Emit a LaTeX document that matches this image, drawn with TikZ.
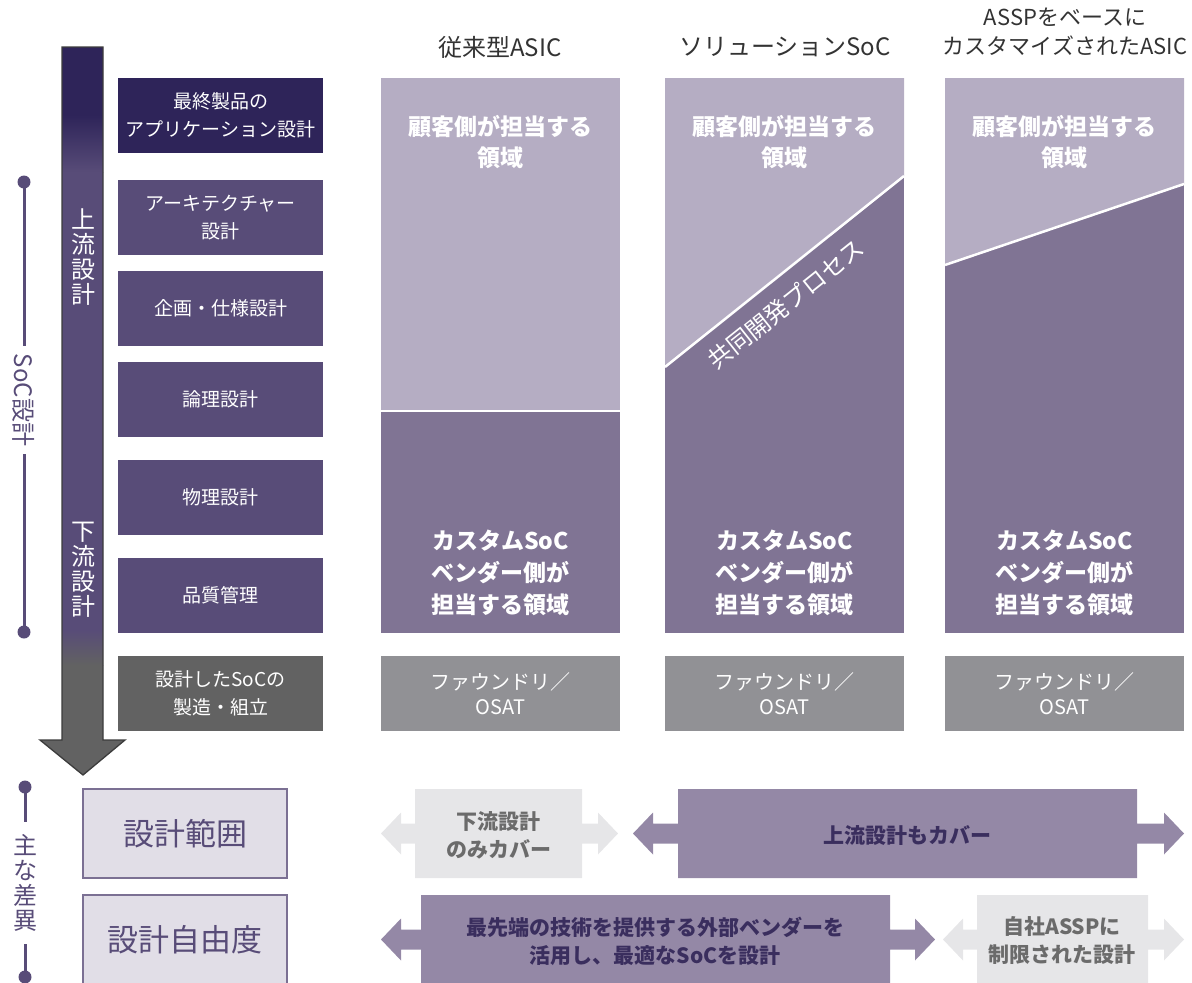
\documentclass[tikz,border=0pt]{standalone}
\usepackage{fontspec}
\setmainfont{Noto Sans CJK JP}
\usetikzlibrary{calc}
\definecolor{navy}{HTML}{2E2459}
\definecolor{boxp}{HTML}{584C78}
\definecolor{boxg}{HTML}{626262}
\definecolor{collight}{HTML}{B5ADC3}
\definecolor{coldark}{HTML}{807494}
\definecolor{foundry}{HTML}{919195}
\definecolor{diffill}{HTML}{E1DEE7}
\definecolor{difdraw}{HTML}{7B7093}
\definecolor{arrlight}{HTML}{E6E6E8}
\definecolor{arrdark}{HTML}{9488A6}
\definecolor{txtdark}{HTML}{3A2E5E}
\definecolor{txtgrey}{HTML}{6B6B6B}
\definecolor{hdr}{HTML}{333333}
\definecolor{outl}{HTML}{3C3C3C}
\newcommand\fsz[2]{\fontsize{#1}{#2}\selectfont}
\newcommand\dblarrow[7]{%
\fill[#1] ({#3},{#6}) -- ({#4},{#6}) -- ({#4},{(#6+#7)/2-10}) -- ({#5-20},{(#6+#7)/2-10}) -- ({#5-20},{(#6+#7)/2-21}) -- ({#5},{(#6+#7)/2}) -- ({#5-20},{(#6+#7)/2+21}) -- ({#5-20},{(#6+#7)/2+10}) -- ({#4},{(#6+#7)/2+10}) -- ({#4},{#7}) -- ({#3},{#7}) -- ({#3},{(#6+#7)/2+10}) -- ({#2+20},{(#6+#7)/2+10}) -- ({#2+20},{(#6+#7)/2+21}) -- ({#2},{(#6+#7)/2}) -- ({#2+20},{(#6+#7)/2-21}) -- ({#2+20},{(#6+#7)/2-10}) -- ({#3},{(#6+#7)/2-10}) -- cycle;}
\tikzset{
 lbox/.style={minimum width=205pt, minimum height=75pt, inner sep=0pt, text=white, align=center, font=\fsz{19}{28}},
 fbox/.style={minimum width=239pt, minimum height=75pt, inner sep=0pt, fill=foundry, text=white, align=center, font=\fsz{20}{25}},
 coltxt/.style={text=white, align=center, inner sep=0pt, font=\bfseries\fsz{23}{31}},
 hdrtxt/.style={text=hdr, align=center, inner sep=0pt, font=\fsz{24}{29}},
 difbox/.style={minimum width=204pt, fill=diffill, draw=difdraw, line width=1.2pt, text=boxp, inner sep=0pt, font=\fsz{31}{36}},
 darrtxt/.style={text=txtdark, align=center, inner sep=0pt, font=\bfseries\fsz{21}{28}},
 larrtxt/.style={text=txtgrey, align=center, inner sep=0pt, font=\bfseries\fsz{21}{28}},
 brk/.style={draw=boxp, line width=3pt},
 brkdot/.style={fill=boxp},
 vtxt/.style={align=center, inner sep=0pt, font=\fsz{24}{25}},
}
\begin{document}
\begin{tikzpicture}[x=1pt,y=-1pt]
\useasboundingbox (0,0) rectangle (1192,983);
\clip (0,0) rectangle (1192,983);
% big arrow
\begin{scope}
\clip (62,47) -- (103,47) -- (103,740) -- (125,740) -- (83,775) -- (40,740) -- (62,740) -- cycle;
\fill[navy] (30,40) rectangle (130,115);
\shade[top color=navy, bottom color=boxp] (30,115) rectangle (130,172);
\fill[boxp] (30,172) rectangle (130,630);
\shade[top color=boxp, bottom color=boxg] (30,630) rectangle (130,665);
\fill[boxg] (30,665) rectangle (130,780);
\end{scope}
\draw[outl, line width=1.3pt, line join=miter] (62,47) -- (103,47) -- (103,740) -- (125,740) -- (83,775) -- (40,740) -- (62,740) -- cycle;
\node[vtxt, text=white] (up) at (83,257) {上\\流\\設\\計};
\node[vtxt, text=white] (down) at (83,570) {下\\流\\設\\計};
% left bracket
\node[text=boxp, rotate=-90, inner sep=8pt, font=\fsz{24}{25}] (soc) at (24,400) {SoC設計};
\coordinate (s1) at (24,182);
\coordinate (s2) at (24,632);
\draw[brk] (s1) -- (soc.west);
\draw[brk] (soc.east) -- (s2);
\fill[brkdot] (s1) circle (6.5);
\fill[brkdot] (s2) circle (6.5);
% left boxes
\node[lbox, fill=navy] (b1) at (220.5,115.5) {最終製品の\\アプリケーション設計};
\node[lbox, fill=boxp] (b2) at (220.5,217.5) {アーキテクチャー\\設計};
\node[lbox, fill=boxp] (b3) at (220.5,308.5) {企画・仕様設計};
\node[lbox, fill=boxp] (b4) at (220.5,399.5) {論理設計};
\node[lbox, fill=boxp] (b5) at (220.5,497.5) {物理設計};
\node[lbox, fill=boxp] (b6) at (220.5,595.5) {品質管理};
\node[lbox, fill=boxg] (b7) at (220.5,693.5) {設計したSoCの\\製造・組立};
% headers
\node[hdrtxt] (h1) at (500,47) {従来型ASIC};
\node[hdrtxt] (h2) at (785,47) {ソリューションSoC};
\node[hdrtxt, font=\fsz{22}{29}] (h3) at (1065,32) {ASSPをベースに\\カスタマイズされたASIC};
% column 1
\fill[collight] (381,78) rectangle (620,411);
\fill[coldark] (381,411) rectangle (620,633);
\coordinate (c1a) at (381,411);
\coordinate (c1b) at (620,411);
\draw[white, line width=2.5pt] (c1a) -- (c1b);
% column 2
\fill[coldark] (665,78) rectangle (904,633);
\coordinate (c2a) at (665,367);
\coordinate (c2b) at (904,176);
\fill[collight] (665,78) -- (904,78) -- (c2b) -- (c2a) -- cycle;
\draw[white, line width=2.5pt] (c2a) -- (c2b);
% column 3
\fill[coldark] (945,78) rectangle (1184,633);
\coordinate (c3a) at (945,265);
\coordinate (c3b) at (1184,184);
\fill[collight] (945,78) -- (1184,78) -- (c3b) -- (c3a) -- cycle;
\draw[white, line width=2.5pt] (c3a) -- (c3b);
% column texts
\node[coltxt] (k1) at (500.5,142) {顧客側が担当する\\領域};
\node[coltxt] (k2) at (784.5,142) {顧客側が担当する\\領域};
\node[coltxt] (k3) at (1064.5,142) {顧客側が担当する\\領域};
\node[coltxt, font=\bfseries\fsz{23}{32}] (v1) at (500.5,573) {カスタムSoC\\ベンダー側が\\担当する領域};
\node[coltxt, font=\bfseries\fsz{23}{32}] (v2) at (784.5,573) {カスタムSoC\\ベンダー側が\\担当する領域};
\node[coltxt, font=\bfseries\fsz{23}{32}] (v3) at (1064.5,573) {カスタムSoC\\ベンダー側が\\担当する領域};
\node[coltxt, rotate=38.6, font=\fsz{24}{28}] (joint) at (786,304) {共同開発プロセス};
% foundry
\node[fbox] (f1) at (500.5,693.5) {ファウンドリ／\\OSAT};
\node[fbox] (f2) at (784.5,693.5) {ファウンドリ／\\OSAT};
\node[fbox] (f3) at (1064.5,693.5) {ファウンドリ／\\OSAT};
% bottom bracket
\node[vtxt, text=boxp] (diff) at (25,883) {主\\な\\差\\異};
\coordinate (d1) at (25,787);
\coordinate (d2) at (25,977);
\draw[brk] (d1) -- (25,822);
\draw[brk] (25,944) -- (d2);
\fill[brkdot] (d1) circle (6.5);
\fill[brkdot] (d2) circle (6.5);
% bottom boxes
\node[difbox, minimum height=89pt] (r1) at (185,833.5) {設計範囲};
\draw[difdraw, fill=diffill, line width=1.2pt] (83,895) rectangle (287,995);
\node[text=boxp, inner sep=0pt, font=\fsz{31}{36}] (r2) at (185,940) {設計自由度};
% bottom arrows
\dblarrow{arrlight}{381}{415}{582}{618}{789}{878}
\dblarrow{arrdark}{633}{678}{1137}{1184}{789}{878}
\dblarrow{arrdark}{381}{421}{890}{935}{895}{984}
\dblarrow{arrlight}{943}{977}{1148}{1184}{895}{984}
\node[larrtxt] (a1) at (498.5,835) {下流設計\\のみカバー};
\node[darrtxt] (a2) at (907,835) {上流設計もカバー};
\node[darrtxt] (a3) at (655,941) {最先端の技術を提供する外部ベンダーを\\活用し、最適なSoCを設計};
\node[larrtxt] (a4) at (1062,941) {自社ASSPに\\制限された設計};
\end{tikzpicture}
\end{document}
